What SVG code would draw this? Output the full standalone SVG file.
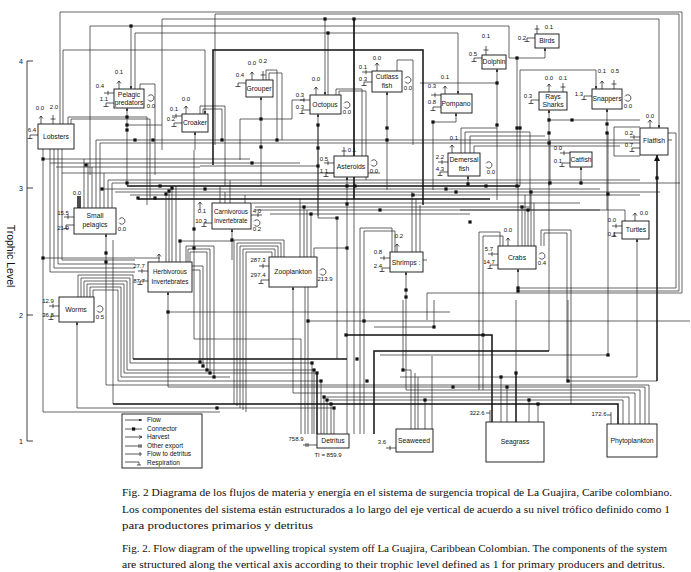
<svg xmlns="http://www.w3.org/2000/svg" width="691" height="572" viewBox="0 0 691 572">
<style>
.n{fill:#fff;stroke:#111;stroke-width:0.9}
.t{font-family:"Liberation Sans",Arial,sans-serif;font-size:6.8px;text-anchor:middle;fill:#111}
.t2{font-family:"Liberation Sans",Arial,sans-serif;font-size:6.3px;text-anchor:middle;fill:#111}
.v{font-family:"Liberation Sans",Arial,sans-serif;font-size:6px;text-anchor:middle;fill:#111}
.sy{fill:none;stroke:#111;stroke-width:0.7}
.c path{fill:none;stroke:#222;stroke-width:0.7}
.c path.b{stroke-width:1.5;stroke:#111}
.q{fill:#111}
.cap{font-family:"Liberation Serif","Times New Roman",serif;font-size:11px;fill:#111}
.lg{font-family:"Liberation Sans",Arial,sans-serif;font-size:6.5px;fill:#111}
.ax{font-family:"Liberation Sans",Arial,sans-serif;font-size:7px;fill:#111;text-anchor:middle}
.tl{font-family:"Liberation Sans",Arial,sans-serif;font-size:10.5px;fill:#111;text-anchor:middle}
</style>
<defs>
<marker id="ar" viewBox="0 0 6 6" refX="6" refY="3" markerWidth="4" markerHeight="4" orient="auto"><path d="M0,0L6,3L0,6z" fill="#111"/></marker>
<rect id="s" x="-1.6" y="-1.6" width="3.2" height="3.2"/>
<path id="rsp" d="M0,0H-8V3.5M-10.5,3.5H-5.5"/>
<path id="imp" d="M0,0H-10M-6,-2.2V2.2"/>
<path id="hv" d="M0,0V-8M-2,-5.5L0,-8L2,-5.5"/>
<path id="dt" d="M0,0V-9M-2.5,-5H2.5"/>
<path id="lp" d="M0,1.6A3.2,3.2 0 1,0 0,-1.6"/>
</defs>
<rect width="691" height="572" fill="#fff"/>

<g id="axis">
<path d="M27,61V441H33M27,61H33M27,188H33M27,315H33" fill="none" stroke="#111" stroke-width="0.8"/>
<text class="ax" x="21" y="64">4</text>
<text class="ax" x="21" y="191">3</text>
<text class="ax" x="21" y="318">2</text>
<text class="ax" x="21" y="444">1</text>
<text class="tl" x="0" y="0" transform="translate(7,256) rotate(90)">Trophic Level</text>
</g>

<g id="connectors" class="c">
<path d="M60,124V12H682V293H427V320"/>
<path d="M215,145V14H679V291H518V269" marker-end="url(#ar)"/>
<path d="M668,133H676V288H518"/>
<path d="M162,150V19H659V128" marker-end="url(#ar)"/>
<path d="M325,19V95" marker-end="url(#ar)"/>
<path d="M354,19V434"/>
<path class="b" d="M354,19V199"/>
<path d="M90,175V26H509V58H545V48" marker-end="url(#ar)"/>
<path d="M131,26V89" marker-end="url(#ar)"/>
<path d="M517,58V186"/>
<path d="M135,89V33H458V94" marker-end="url(#ar)"/>
<path d="M328,33V95"/>
<path d="M63,124V50H205V114" marker-end="url(#ar)"/>
<path class="b" d="M213,165V50H423V205"/>
<path d="M397,71V60H413V145"/>
<path d="M336,95V89H362V175"/>
<path d="M339,95V91H366V180"/>
<path d="M266,80V70H277V140"/>
<path d="M269,80V73H282V140"/>
<path d="M261,186V97" marker-end="url(#ar)"/>
<path d="M240,160V119H292V100H304"/>
<path d="M318,216V114" marker-end="url(#ar)"/>
<path d="M387,190V92" marker-end="url(#ar)"/>
<path d="M433,190V122H456V113" marker-end="url(#ar)"/>
<path d="M468,186V176" marker-end="url(#ar)"/>
<path d="M461,153V128H497"/>
<path d="M465,153V132H530V210"/>
<path d="M470,153V136H545"/>
<path d="M474,153V146H620"/>
<path d="M497,200V69" marker-end="url(#ar)"/>
<path d="M420,83H497"/>
<path d="M549,186V110" marker-end="url(#ar)"/>
<path d="M520,186V70H596V89" marker-end="url(#ar)"/>
<path d="M607,210V109" marker-end="url(#ar)"/>
<path d="M549,120H640"/>
<path d="M581,183V167" marker-end="url(#ar)"/>
<path d="M550,183V140"/>
<path class="b" d="M657,381V155" marker-end="url(#ar)"/>
<path d="M657,381H568V300"/>
<path d="M640,127H614V156H640"/>
<path d="M637,377V239" marker-end="url(#ar)"/>
<path d="M637,377H400"/>
<path d="M625,221V210H460"/>
<path d="M608,133V355H380"/>
<path d="M518,246V186"/>
<path d="M522,246V207"/>
<path d="M525,246V195"/>
<path d="M528,246V210"/>
<path d="M531,246V192"/>
<path d="M534,246V203"/>
<path d="M541,246V230H571V404"/>
<path d="M544,246V233H567V381"/>
<path d="M479,390V232H500V246"/>
<path d="M483,390V236H503V246"/>
<path d="M640,424V390H406V272" marker-end="url(#ar)"/>
<path d="M360,434V228H392V252"/>
<path d="M364,434V231H395V252"/>
<path d="M420,252V205"/>
<path d="M416,252V199"/>
<path d="M412,252V192"/>
<path d="M423,260H427"/>
<path d="M347,434V177" marker-end="url(#ar)"/>
<path d="M78,297V275H133V359"/>
<path class="b" d="M133,359H347"/>
<path d="M318,125V218H337V359"/>
<path d="M200,166H318"/>
<path d="M635,424V393H293V287" marker-end="url(#ar)"/>
<path d="M314,257V248H347"/>
<path d="M300,257V199"/>
<path d="M304,257V207"/>
<path d="M307,257V210"/>
<path d="M311,257V214"/>
<path d="M234,404V240H284V257"/>
<path d="M237,406V243H281V257"/>
<path d="M240,408V246H278V257"/>
<path d="M243,410V249H275V257"/>
<path d="M246,412V252H272V257"/>
<path d="M645,424V387H168V292" marker-end="url(#ar)"/>
<path d="M168,312H450"/>
<path d="M166,262V194"/>
<path d="M169,262V191"/>
<path d="M172,262V188"/>
<path d="M176,262V186"/>
<path d="M180,262V241H232"/>
<path d="M186,262V246H214V377"/>
<path d="M188,262V249H210V373"/>
<path d="M190,262V252H207V370"/>
<path d="M192,266H203V366"/>
<path d="M192,270H200V362"/>
<path d="M649,424V385H106V234" marker-end="url(#ar)"/>
<path d="M84,208V159"/>
<path d="M88,208V163"/>
<path d="M92,208V167"/>
<path d="M96,208V140"/>
<path d="M100,208V143"/>
<path d="M104,208V173"/>
<path d="M108,208V180"/>
<path d="M112,208V183"/>
<path class="b" d="M78,208V196"/>
<path class="b" d="M80,208V196"/>
<path d="M96,140H672"/>
<path d="M100,143H655"/>
<path d="M43,159H250"/>
<path d="M50,163H300"/>
<path d="M56,167H200"/>
<path d="M62,173H380"/>
<path d="M108,180H640"/>
<path d="M112,183H680"/>
<path class="b" d="M127,186H520"/>
<path d="M102,189H600"/>
<path d="M115,192H660"/>
<path d="M130,195H640"/>
<path class="b" d="M138,199H490"/>
<path d="M252,203H580"/>
<path d="M255,207H530"/>
<path d="M255,210H600"/>
<path d="M270,214H470"/>
<path d="M232,260V229" marker-end="url(#ar)"/>
<path d="M194,150V339H301V434"/>
<path d="M220,203V186"/>
<path d="M225,203V192"/>
<path d="M230,203V180"/>
<path d="M245,203V195"/>
<path d="M68,124V117H147V205"/>
<path d="M71,124V119H150V199"/>
<path d="M50,149V272H135"/>
<path d="M54,149V268H135"/>
<path d="M58,149V264H135"/>
<path d="M62,149V260H135"/>
<path d="M127,186V108" marker-end="url(#ar)"/>
<path d="M127,125H162"/>
<path d="M140,89V84H155V175"/>
<path d="M195,150V132" marker-end="url(#ar)"/>
<path d="M200,114V106H225V186"/>
<path d="M203,114V109H222V140"/>
<path d="M81,297V278H130V363H312V434"/>
<path d="M84,297V281H127V370H314V434"/>
<path d="M87,297V284H124V373H317"/>
<path class="b" d="M317,373V434"/>
<path d="M90,297V287H121V377H230"/>
<path d="M93,297V290H118V381H321V434"/>
<path d="M334,434V408H77V322" marker-end="url(#ar)"/>
<path d="M43,140V412H220"/>
<path d="M305,287V434"/>
<path d="M308,287V434"/>
<path d="M308,321H690"/>
<path d="M549,182V351"/>
<path class="b" d="M549,351H374V434"/>
<path d="M374,327H434V300"/>
<path d="M411,429V370H403V300"/>
<path d="M415,429V373"/>
<path d="M418,429V377"/>
<path d="M425,429V400"/>
<path d="M432,429V356"/>
<path class="b" d="M492,422V335H346"/>
<path d="M501,422V377"/>
<path d="M507,422V387"/>
<path class="b" d="M516,422V373"/>
<path d="M516,373V300"/>
<path d="M529,422V400"/>
<path d="M538,422V404"/>
<path d="M113,240V404"/>
<path class="b" d="M113,404H618V424"/>
<path d="M331,404V434"/>
<path d="M623,424V400H327V434"/>
<path d="M629,424V397H324V434"/>
<path d="M43,258H160"/>
<g class="q">
<use href="#s" x="131" y="26"/><use href="#s" x="325" y="19"/><use href="#s" x="354" y="19"/><use href="#s" x="328" y="33"/>
<use href="#s" x="517" y="58"/><use href="#s" x="517" y="128"/><use href="#s" x="517" y="186"/>
<use href="#s" x="127" y="117"/><use href="#s" x="127" y="125"/><use href="#s" x="127" y="130"/>
<use href="#s" x="135" y="140"/><use href="#s" x="153" y="140"/><use href="#s" x="222" y="140"/><use href="#s" x="277" y="140"/>
<use href="#s" x="261" y="119"/><use href="#s" x="261" y="147"/><use href="#s" x="318" y="125"/><use href="#s" x="318" y="148"/>
<use href="#s" x="387" y="128"/><use href="#s" x="387" y="140"/><use href="#s" x="433" y="122"/><use href="#s" x="468" y="184"/>
<use href="#s" x="497" y="83"/><use href="#s" x="497" y="125"/><use href="#s" x="549" y="120"/><use href="#s" x="549" y="133"/><use href="#s" x="549" y="143"/>
<use href="#s" x="520" y="128"/><use href="#s" x="607" y="124"/><use href="#s" x="607" y="133"/><use href="#s" x="572" y="120"/>
<use href="#s" x="581" y="183"/><use href="#s" x="550" y="183"/><use href="#s" x="657" y="178"/><use href="#s" x="568" y="381"/>
<use href="#s" x="608" y="194"/><use href="#s" x="608" y="355"/><use href="#s" x="518" y="288"/><use href="#s" x="518" y="291"/>
<use href="#s" x="522" y="207"/><use href="#s" x="528" y="210"/><use href="#s" x="531" y="192"/>
<use href="#s" x="406" y="290"/><use href="#s" x="406" y="297"/><use href="#s" x="347" y="186"/><use href="#s" x="347" y="204"/><use href="#s" x="347" y="248"/>
<use href="#s" x="318" y="166"/><use href="#s" x="337" y="218"/><use href="#s" x="304" y="207"/><use href="#s" x="311" y="214"/>
<use href="#s" x="168" y="312"/><use href="#s" x="166" y="194"/><use href="#s" x="169" y="191"/><use href="#s" x="172" y="188"/><use href="#s" x="180" y="241"/>
<use href="#s" x="200" y="362"/><use href="#s" x="203" y="366"/><use href="#s" x="207" y="370"/><use href="#s" x="210" y="373"/><use href="#s" x="214" y="377"/>
<use href="#s" x="106" y="253"/><use href="#s" x="106" y="262"/><use href="#s" x="43" y="159"/><use href="#s" x="43" y="258"/><use href="#s" x="86" y="165"/>
<use href="#s" x="102" y="189"/><use href="#s" x="127" y="183"/><use href="#s" x="160" y="186"/><use href="#s" x="138" y="198"/><use href="#s" x="155" y="198"/>
<use href="#s" x="194" y="229"/><use href="#s" x="194" y="248"/><use href="#s" x="232" y="240"/>
<use href="#s" x="312" y="363"/><use href="#s" x="314" y="370"/><use href="#s" x="317" y="373"/><use href="#s" x="321" y="381"/>
<use href="#s" x="324" y="397"/><use href="#s" x="327" y="400"/><use href="#s" x="331" y="404"/><use href="#s" x="334" y="408"/><use href="#s" x="217" y="408"/>
<use href="#s" x="308" y="321"/><use href="#s" x="364" y="321"/><use href="#s" x="434" y="327"/><use href="#s" x="403" y="370"/>
<use href="#s" x="346" y="335"/><use href="#s" x="483" y="335"/><use href="#s" x="501" y="377"/><use href="#s" x="507" y="387"/><use href="#s" x="516" y="373"/>
<use href="#s" x="529" y="400"/><use href="#s" x="538" y="404"/><use href="#s" x="357" y="359"/><use href="#s" x="367" y="381"/><use href="#s" x="425" y="400"/><use href="#s" x="453" y="387"/>
<use href="#s" x="355" y="186"/><use href="#s" x="380" y="210"/><use href="#s" x="413" y="195"/><use href="#s" x="446" y="189"/><use href="#s" x="456" y="192"/>
<use href="#s" x="470" y="222"/><use href="#s" x="486" y="186"/><use href="#s" x="252" y="163"/><use href="#s" x="205" y="189"/>
</g>
</g>

<g id="lobsters"><rect class="n" x="38" y="124" width="36" height="25"/><text class="t" x="56" y="139">Lobsters</text>
<use class="sy" href="#hv" x="41" y="124"/><text class="v" x="40" y="110">0.0</text>
<use class="sy" href="#dt" x="53" y="124"/><text class="v" x="54" y="109">2.0</text>
<use class="sy" href="#rsp" x="38" y="135"/><text class="v" x="32" y="132">6.4</text></g>

<g id="pelagic-predators"><rect class="n" x="114" y="89" width="30" height="19"/><text class="t" x="129" y="97">Pelagic</text><text class="t" x="129" y="105">predators</text>
<use class="sy" href="#hv" x="119" y="89"/><text class="v" x="119" y="74">0.1</text>
<use class="sy" href="#imp" x="114" y="93"/><text class="v" x="100" y="88">0.4</text>
<use class="sy" href="#rsp" x="114" y="103"/><text class="v" x="104" y="101">1.1</text>
<use class="sy" href="#lp" x="148" y="98"/><text class="v" x="151" y="108">0.0</text></g>

<g id="croaker"><rect class="n" x="182" y="114" width="26" height="18"/><text class="t" x="195" y="125">Croaker</text>
<use class="sy" href="#hv" x="186" y="114"/><text class="v" x="186" y="101">0.0</text>
<use class="sy" href="#imp" x="182" y="116"/><text class="v" x="174" y="111">0.1</text>
<use class="sy" href="#rsp" x="182" y="123"/><text class="v" x="171" y="121">0.2</text></g>

<g id="grouper"><rect class="n" x="246" y="80" width="27" height="17"/><text class="t" x="259" y="91">Grouper</text>
<use class="sy" href="#hv" x="252" y="80"/><text class="v" x="252" y="65">0.0</text>
<use class="sy" href="#dt" x="263" y="80"/><text class="v" x="263" y="63">0.2</text>
<use class="sy" href="#rsp" x="246" y="83"/><text class="v" x="240" y="77">0.4</text></g>

<g id="octopus"><rect class="n" x="310" y="95" width="31" height="19"/><text class="t" x="325" y="107">Octopus</text>
<use class="sy" href="#hv" x="316" y="95"/><text class="v" x="316" y="81">0.0</text>
<use class="sy" href="#imp" x="310" y="100"/><text class="v" x="300" y="97">0.3</text>
<use class="sy" href="#rsp" x="310" y="110"/><text class="v" x="300" y="109">0.3</text>
<use class="sy" href="#lp" x="344" y="105"/><text class="v" x="347" y="114">0.0</text></g>

<g id="cutlass-fish"><rect class="n" x="372" y="71" width="30" height="21"/><text class="t" x="387" y="79">Cutlass</text><text class="t" x="387" y="88">fish</text>
<use class="sy" href="#hv" x="377" y="71"/><text class="v" x="377" y="60">0.0</text>
<use class="sy" href="#imp" x="372" y="72"/><text class="v" x="363" y="69">0.1</text>
<use class="sy" href="#rsp" x="372" y="82"/><text class="v" x="363" y="81">0.3</text>
<use class="sy" href="#lp" x="405" y="80"/><text class="v" x="408" y="90">0.0</text></g>

<g id="pompano"><rect class="n" x="441" y="94" width="31" height="19"/><text class="t" x="456" y="106">Pompano</text>
<use class="sy" href="#hv" x="445" y="94"/><text class="v" x="445" y="79">0.1</text>
<use class="sy" href="#imp" x="441" y="95"/><text class="v" x="432" y="88">0.3</text>
<use class="sy" href="#rsp" x="441" y="107"/><text class="v" x="432" y="104">0.8</text></g>

<g id="dolphin"><rect class="n" x="482" y="55" width="24" height="14"/><text class="t" x="494" y="64">Dolphin</text>
<use class="sy" href="#dt" x="486" y="55"/><text class="v" x="486" y="38">0.1</text>
<use class="sy" href="#rsp" x="482" y="58"/><text class="v" x="473" y="56">0.5</text></g>

<g id="birds"><rect class="n" x="535" y="34" width="24" height="14"/><text class="t" x="547" y="43">Birds</text>
<use class="sy" href="#dt" x="537" y="34"/><text class="v" x="549" y="29">0.1</text>
<use class="sy" href="#rsp" x="535" y="38"/><text class="v" x="522" y="40">0.2</text></g>

<g id="rays-sharks"><rect class="n" x="539" y="92" width="28" height="18"/><text class="t" x="553" y="99">Rays</text><text class="t" x="553" y="107">Sharks</text>
<use class="sy" href="#hv" x="549" y="92"/><text class="v" x="549" y="80">0.0</text>
<use class="sy" href="#dt" x="563" y="92"/><text class="v" x="563" y="80">0.1</text>
<use class="sy" href="#rsp" x="539" y="100"/><text class="v" x="528" y="98">0.3</text></g>

<g id="snappers"><rect class="n" x="592" y="89" width="30" height="20"/><text class="t" x="607" y="101">Snappers</text>
<use class="sy" href="#hv" x="602" y="89"/><text class="v" x="602" y="73">0.1</text>
<use class="sy" href="#dt" x="614" y="89"/><text class="v" x="615" y="73">0.5</text>
<use class="sy" href="#rsp" x="592" y="96"/><text class="v" x="579" y="96">1.3</text>
<use class="sy" href="#lp" x="625" y="98"/><text class="v" x="628" y="108">0.0</text></g>

<g id="flatfish"><rect class="n" x="640" y="128" width="28" height="27"/><text class="t" x="654" y="143">Flatfish</text>
<use class="sy" href="#hv" x="650" y="128"/><text class="v" x="650" y="118">0.0</text>
<use class="sy" href="#imp" x="640" y="137"/><text class="v" x="629" y="135">0.2</text>
<use class="sy" href="#rsp" x="640" y="148"/><text class="v" x="629" y="147">0.7</text></g>

<g id="asteroids"><rect class="n" x="334" y="156" width="34" height="21"/><text class="t" x="351" y="169">Asteroids</text>
<use class="sy" href="#dt" x="344" y="156"/><text class="v" x="352" y="152">0.1</text>
<use class="sy" href="#imp" x="334" y="163"/><text class="v" x="324" y="161">0.5</text>
<use class="sy" href="#rsp" x="334" y="173"/><text class="v" x="324" y="173">1.1</text>
<use class="sy" href="#lp" x="371" y="163"/><text class="v" x="374" y="173">0.0</text></g>

<g id="demersal-fish"><rect class="n" x="448" y="153" width="32" height="23"/><text class="t" x="464" y="162">Demersal</text><text class="t" x="464" y="171">fish</text>
<use class="sy" href="#hv" x="452" y="153"/><text class="v" x="454" y="140">0.1</text>
<use class="sy" href="#imp" x="448" y="162"/><text class="v" x="440" y="159">2.2</text>
<use class="sy" href="#rsp" x="448" y="172"/><text class="v" x="440" y="171">4.3</text>
<use class="sy" href="#lp" x="486" y="165"/><text class="v" x="491" y="174">0.0</text></g>

<g id="catfish"><rect class="n" x="570" y="152" width="22" height="15"/><text class="t" x="581" y="162">Catfish</text>
<use class="sy" href="#imp" x="570" y="153"/><text class="v" x="558" y="150">0.0</text>
<use class="sy" href="#rsp" x="570" y="163"/><text class="v" x="558" y="163">0.1</text></g>

<g id="small-pelagics"><rect class="n" x="74" y="208" width="42" height="26"/><text class="t" x="95" y="218">Small</text><text class="t" x="95" y="227">pelagics</text>
<text class="v" x="77" y="195">0.0</text>
<use class="sy" href="#imp" x="74" y="217"/><text class="v" x="63" y="215">15.5</text>
<use class="sy" href="#rsp" x="74" y="225"/><text class="v" x="63" y="230">21.0</text>
<use class="sy" href="#lp" x="119" y="221"/><text class="v" x="122" y="231">0.0</text></g>

<g id="carnivorous-invertebrate"><rect class="n" x="212" y="203" width="39" height="26"/><text class="t2" x="231" y="214">Carnivorous</text><text class="t2" x="231" y="223">invertebrate</text>
<use class="sy" href="#hv" x="200" y="210"/><text class="v" x="202" y="213">0.1</text>
<use class="sy" href="#rsp" x="212" y="223"/><text class="v" x="201" y="223">10.3</text>
<path class="sy" d="M251,215H262M258,213V217"/><text class="v" x="257" y="213">4.0</text>
<use class="sy" href="#lp" x="254" y="223"/><text class="v" x="257" y="231">0.2</text></g>

<g id="herbivorous-invertebrates"><rect class="n" x="148" y="262" width="44" height="30"/><text class="t2" x="170" y="274">Herbivorous</text><text class="t2" x="170" y="284">Invertebrates</text>
<use class="sy" href="#hv" x="159" y="262"/>
<use class="sy" href="#imp" x="148" y="271"/><text class="v" x="139" y="268">27.7</text>
<use class="sy" href="#rsp" x="148" y="281"/><text class="v" x="139" y="283">87.7</text></g>

<g id="zooplankton"><rect class="n" x="269" y="257" width="48" height="30"/><text class="t" x="293" y="274">Zooplankton</text>
<use class="sy" href="#imp" x="269" y="266"/><text class="v" x="258" y="262">287.3</text>
<use class="sy" href="#rsp" x="269" y="280"/><text class="v" x="258" y="277">297.4</text>
<use class="sy" href="#lp" x="320" y="272"/><text class="v" x="325" y="281">213.9</text></g>

<g id="shrimps"><rect class="n" x="390" y="252" width="33" height="20"/><text class="t" x="406" y="265">Shrimps :</text>
<use class="sy" href="#hv" x="397" y="252"/><text class="v" x="399" y="238">0.2</text>
<use class="sy" href="#imp" x="390" y="258"/><text class="v" x="378" y="254">0.8</text>
<use class="sy" href="#rsp" x="390" y="268"/><text class="v" x="378" y="268">2.4</text></g>

<g id="crabs"><rect class="n" x="498" y="246" width="38" height="23"/><text class="t" x="517" y="260">Crabs</text>
<use class="sy" href="#hv" x="508" y="246"/><text class="v" x="508" y="232">0.0</text>
<use class="sy" href="#imp" x="498" y="254"/><text class="v" x="489" y="251">5.7</text>
<use class="sy" href="#rsp" x="498" y="265"/><text class="v" x="489" y="264">14.7</text>
<use class="sy" href="#lp" x="539" y="256"/><text class="v" x="542" y="265">0.4</text></g>

<g id="turtles"><rect class="n" x="622" y="221" width="27" height="18"/><text class="t" x="636" y="232">Turtles</text>
<use class="sy" href="#hv" x="635" y="221"/><text class="v" x="644" y="215">0.0</text>
<use class="sy" href="#imp" x="622" y="226"/><text class="v" x="612" y="222">0.0</text>
<use class="sy" href="#rsp" x="622" y="233"/><text class="v" x="612" y="236">0.1</text></g>

<g id="worms"><rect class="n" x="59" y="297" width="35" height="25"/><text class="t" x="76" y="312">Worms</text>
<use class="sy" href="#imp" x="59" y="306"/><text class="v" x="48" y="303">12.9</text>
<use class="sy" href="#rsp" x="59" y="316"/><text class="v" x="48" y="317">36.8</text>
<use class="sy" href="#lp" x="97" y="309"/><text class="v" x="100" y="319">0.5</text></g>

<g id="detritus"><rect class="n" x="317" y="434" width="32" height="14"/><text class="t" x="333" y="443">Detritus</text>
<path class="sy" d="M317,445H303M306,443V447M308,443V447"/><text class="v" x="296" y="441">758.9</text>
<text class="v" x="328" y="457">TI = 859.9</text></g>

<g id="seaweeed"><rect class="n" x="396" y="429" width="37" height="23"/><text class="t" x="414" y="443">Seaweeed</text>
<use class="sy" href="#imp" x="396" y="448"/><text class="v" x="382" y="444">3.6</text></g>

<g id="seagrass"><rect class="n" x="486" y="422" width="58" height="40"/><text class="t" x="515" y="444">Seagrass</text>
<path class="sy" d="M486,413H490M490,410V422"/><text class="v" x="477" y="415">322.6</text></g>

<g id="phytoplankton"><rect class="n" x="607" y="424" width="50" height="33"/><text class="t" x="632" y="443">Phytoplankton</text>
<path class="sy" d="M607,415H611M611,412V424"/><text class="v" x="599" y="416">172.6</text></g>

<g id="legend">
<rect x="122" y="414" width="80" height="54" fill="#fff" stroke="#111" stroke-width="0.9"/>
<path d="M125,420H142" class="sy" marker-end="url(#ar)"/>
<path d="M125,429H142" class="sy"/><rect x="132" y="427.4" width="3.2" height="3.2" fill="#111"/>
<path d="M125,437H142M139,435.5L142,437L139,438.5" class="sy"/>
<path d="M125,446H142M139,444V448M141,444V448" class="sy"/>
<path d="M125,454H142M140,452V456" class="sy"/>
<path d="M125,462H139V465M137,465H141" class="sy"/>
<text class="lg" x="147" y="422">Flow</text>
<text class="lg" x="147" y="431">Connector</text>
<text class="lg" x="147" y="439">Harvest</text>
<text class="lg" x="147" y="448">Other export</text>
<text class="lg" x="147" y="456">Flow to detritus</text>
<text class="lg" x="147" y="465">Respiration</text>
</g>

<g id="caption">
<text class="cap" x="122" y="496" textLength="550" lengthAdjust="spacingAndGlyphs">Fig. 2 Diagrama de los flujos de materia y energía en el sistema de surgencia tropical de La Guajira, Caribe colombiano.</text>
<text class="cap" x="122" y="513" textLength="548" lengthAdjust="spacingAndGlyphs">Los componentes del sistema están estructurados a lo largo del eje vertical de acuerdo a su nivel trófico definido como 1</text>
<text class="cap" x="122" y="529" textLength="191" lengthAdjust="spacingAndGlyphs">para productores primarios y detritus</text>
<text class="cap" x="122" y="552" textLength="545" lengthAdjust="spacingAndGlyphs">Fig. 2. Flow diagram of the upwelling tropical system off La Guajira, Caribbean Colombian. The components of the system</text>
<text class="cap" x="122" y="568" textLength="543" lengthAdjust="spacingAndGlyphs">are structured along the vertical axis according to their trophic level defined as 1 for primary producers and detritus.</text>
</g>
</svg>
